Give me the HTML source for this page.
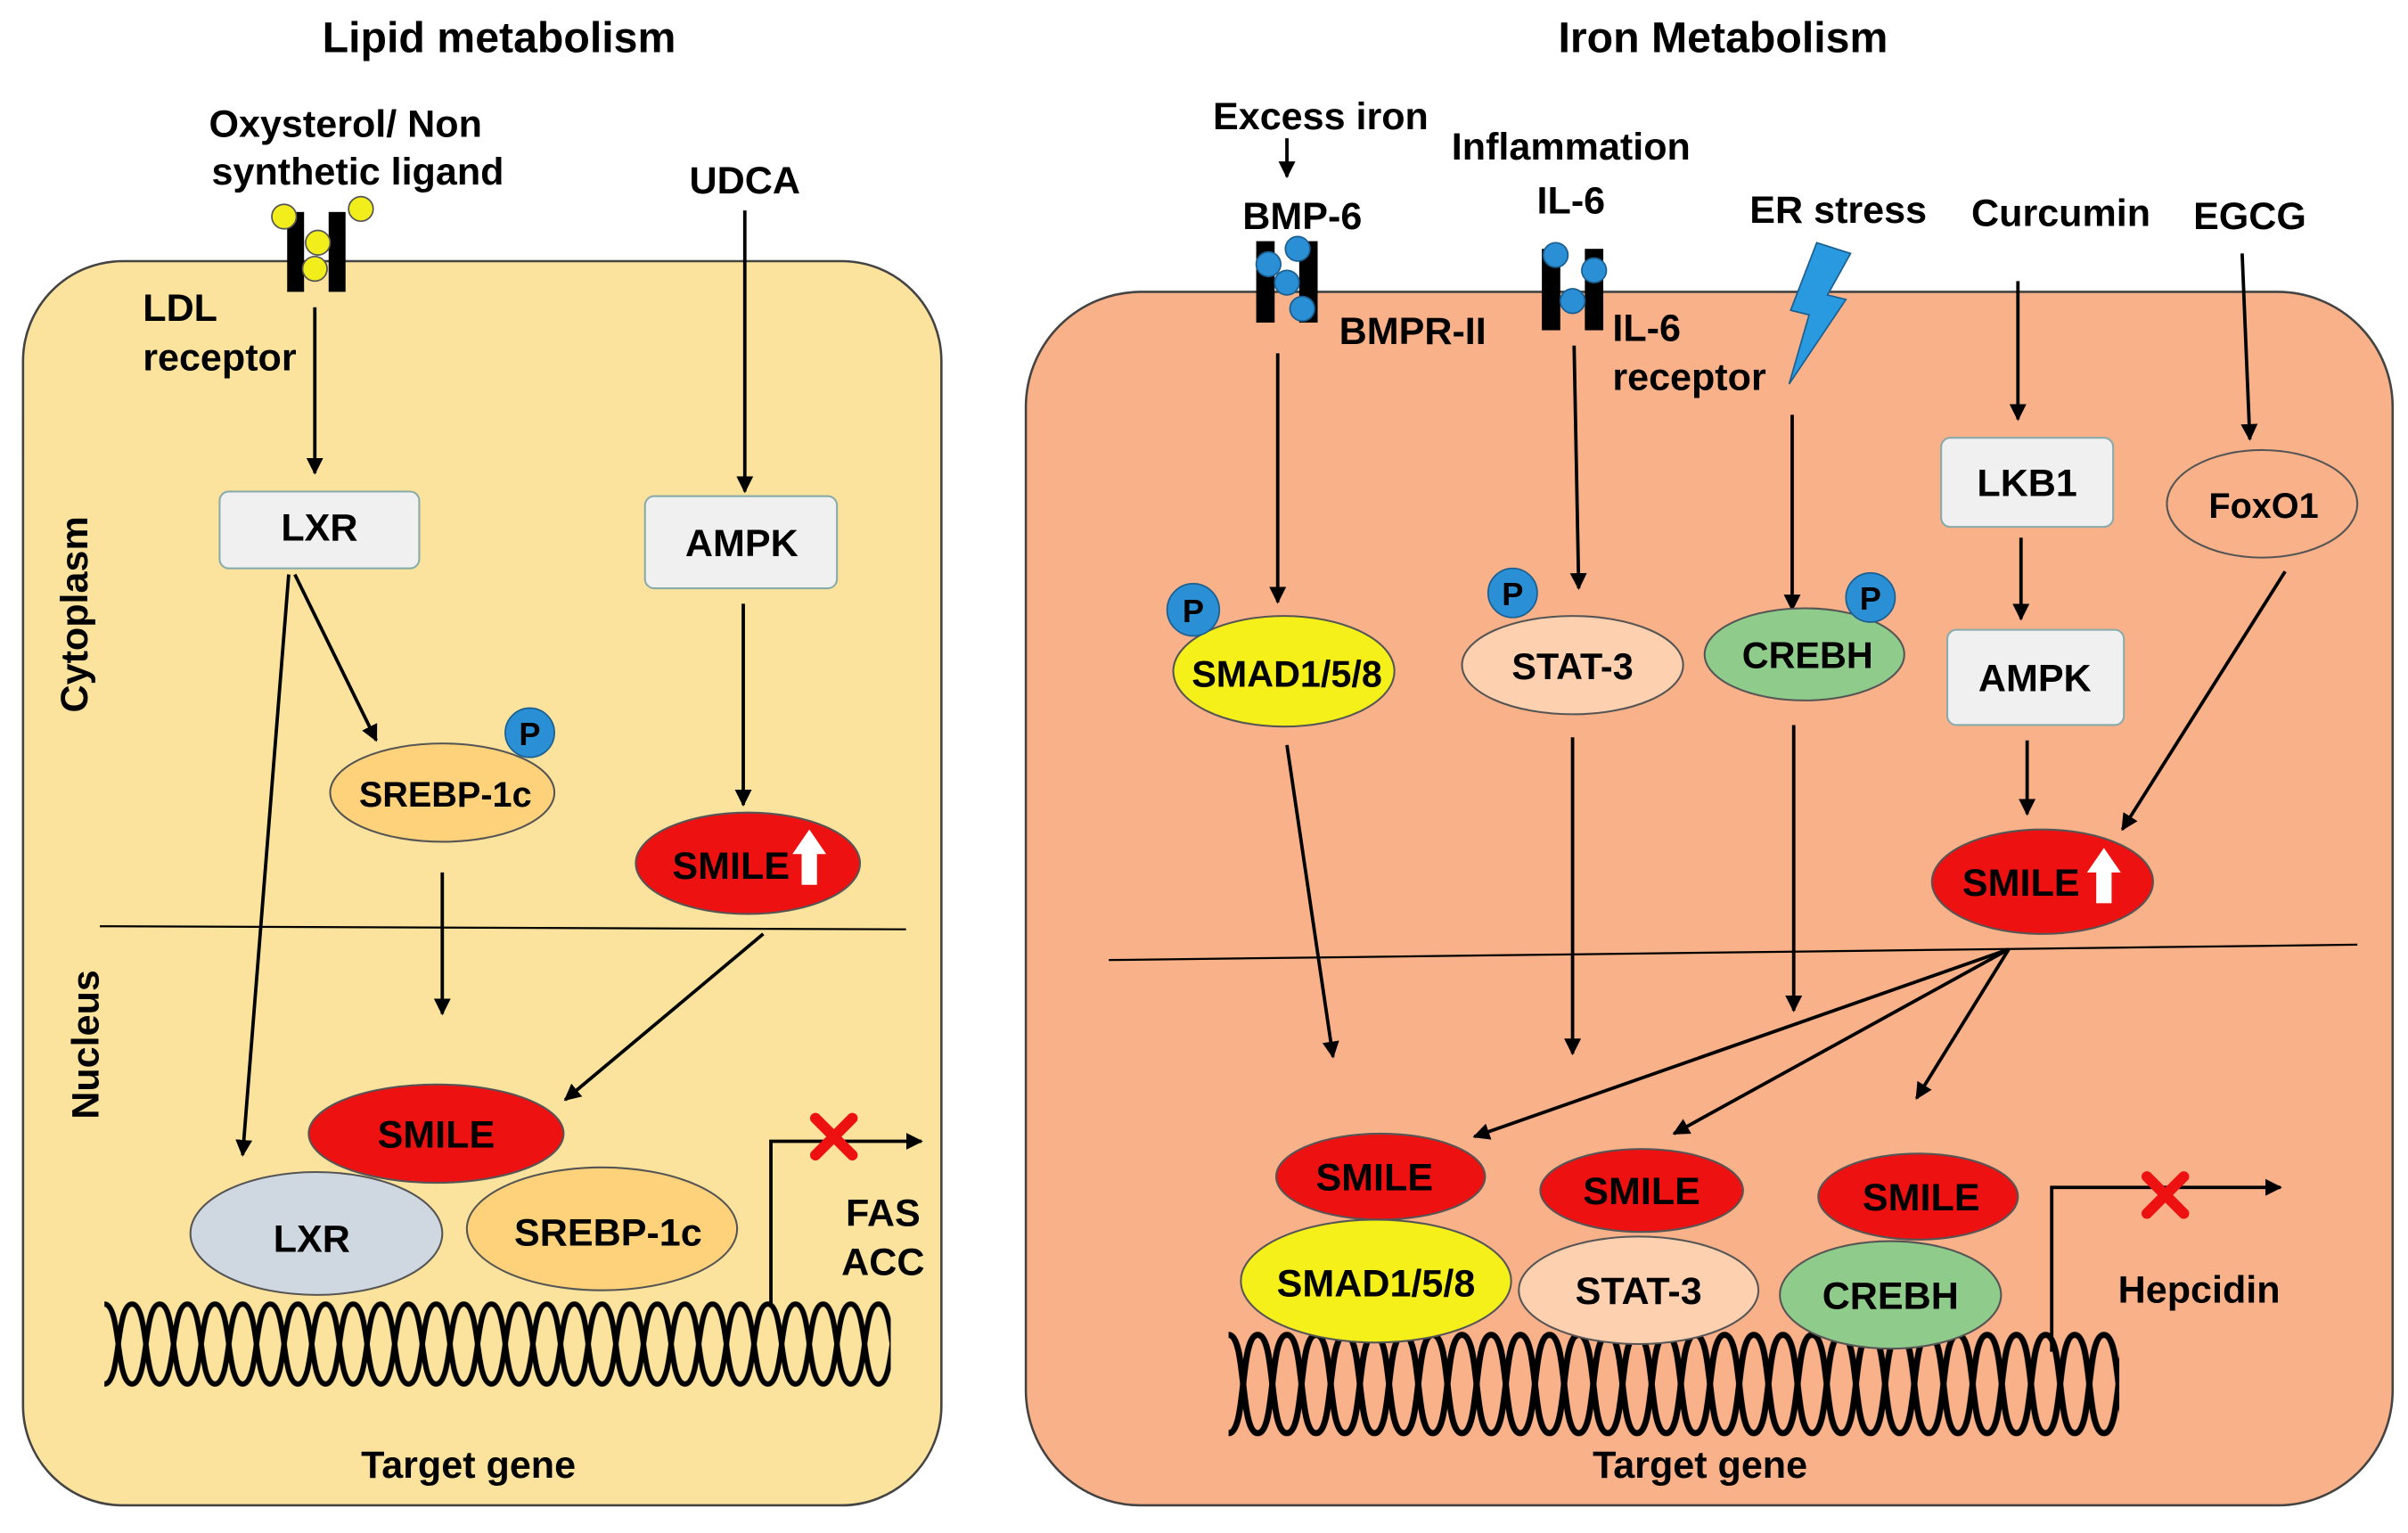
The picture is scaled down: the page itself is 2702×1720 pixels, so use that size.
<!DOCTYPE html>
<html><head><meta charset="utf-8"><style>
html,body{margin:0;padding:0;background:#fff}
svg{display:block}
text{font-family:"Liberation Sans",Arial,sans-serif;font-weight:bold;fill:#000}
</style></head><body>
<svg width="2702" height="1720" viewBox="0 0 1568 998" preserveAspectRatio="none" xmlns="http://www.w3.org/2000/svg">
<defs>
<marker id="a" viewBox="0 0 10 10" refX="9" refY="5" markerWidth="5" markerHeight="5" orient="auto"><path d="M0,0 L10,5 L0,10 z" fill="#000"/></marker>
<pattern id="dna1" x="68" y="845" width="36" height="60" patternUnits="userSpaceOnUse">
<path d="M0,4 C11,4 7,56 18,56 C29,56 25,4 36,4" fill="none" stroke="#000" stroke-width="3.5"/>
<path d="M0,56 C11,56 7,4 18,4 C29,4 25,56 36,56" fill="none" stroke="#000" stroke-width="3.5"/>
</pattern>
<pattern id="dna2" x="800" y="865" width="38" height="72" patternUnits="userSpaceOnUse">
<path d="M0,4 C12,4 7,68 19,68 C31,68 26,4 38,4" fill="none" stroke="#000" stroke-width="4"/>
<path d="M0,68 C12,68 7,4 19,4 C31,4 26,68 38,68" fill="none" stroke="#000" stroke-width="4"/>
</pattern>
</defs>
<g font-size="28" text-anchor="middle">
<text x="325" y="34">Lipid metabolism</text>
<text x="1122" y="34">Iron Metabolism</text>
</g>
<rect x="15" y="170" width="598" height="810" rx="65" fill="#FCE39D" stroke="#444" stroke-width="1.5"/>
<rect x="668" y="190" width="890" height="790" rx="75" fill="#F8B188" stroke="#444" stroke-width="1.5"/>

<g stroke="#000" stroke-width="2.2" fill="none" marker-end="url(#a)">
<line x1="205" y1="200" x2="205" y2="308"/>
<line x1="485" y1="137" x2="485" y2="320"/>
<line x1="192" y1="374" x2="245" y2="482"/>
<line x1="188" y1="374" x2="158" y2="752"/>
<line x1="484" y1="393" x2="484" y2="524"/>
<line x1="288" y1="568" x2="288" y2="660"/>
<line x1="497" y1="608" x2="368" y2="716"/>
<line x1="838" y1="90" x2="838" y2="115"/>
<line x1="832" y1="230" x2="832" y2="392"/>
<line x1="1025" y1="225" x2="1028" y2="383"/>
<line x1="1167" y1="270" x2="1167" y2="397"/>
<line x1="1314" y1="183" x2="1314" y2="273"/>
<line x1="1460" y1="165" x2="1465" y2="286"/>
<line x1="1316" y1="350" x2="1316" y2="403"/>
<line x1="1320" y1="482" x2="1320" y2="530"/>
<line x1="1488" y1="372" x2="1382" y2="540"/>
<line x1="838" y1="485" x2="868" y2="688"/>
<line x1="1024" y1="480" x2="1024" y2="686"/>
<line x1="1168" y1="472" x2="1168" y2="658"/>
<line x1="1308" y1="618" x2="960" y2="740"/>
<line x1="1308" y1="618" x2="1090" y2="738"/>
<line x1="1308" y1="618" x2="1248" y2="715"/>
<polyline points="502,850 502,743 600,743"/>
<polyline points="1336,880 1336,773 1485,773"/>
</g>
<line x1="65" y1="603" x2="590" y2="605" stroke="#000" stroke-width="1.3"/>
<line x1="722" y1="625" x2="1535" y2="615" stroke="#000" stroke-width="1.3"/>

<rect x="187" y="138" width="11" height="52" fill="#000"/><rect x="214" y="138" width="11" height="52" fill="#000"/>
<g fill="#F2EE1C" stroke="#555" stroke-width="1"><circle cx="185" cy="141" r="8"/><circle cx="235" cy="136" r="8"/><circle cx="207" cy="158" r="8"/><circle cx="205" cy="175" r="8"/></g>
<rect x="818" y="157" width="12" height="53" fill="#000"/><rect x="846" y="157" width="12" height="53" fill="#000"/>
<g fill="#2A8FD4" stroke="#1a5f90" stroke-width="1"><circle cx="845" cy="162" r="8"/><circle cx="826" cy="172" r="8"/><circle cx="838" cy="184" r="8"/><circle cx="848" cy="201" r="8"/></g>
<rect x="1004" y="162" width="12" height="53" fill="#000"/><rect x="1032" y="162" width="12" height="53" fill="#000"/>
<g fill="#2A8FD4" stroke="#1a5f90" stroke-width="1"><circle cx="1013" cy="166" r="8"/><circle cx="1038" cy="176" r="8"/><circle cx="1024" cy="196" r="8"/></g>
<path d="M1183,158 L1205,165 L1190,192 L1202,195 L1165,250 L1178,205 L1166,202 Z" fill="#2A9AE0" stroke="#1a5f90" stroke-width="1"/>

<g fill="#F0F0F0" stroke="#8aa" stroke-width="1.2">
<rect x="143" y="320" width="130" height="50" rx="6"/>
<rect x="420" y="323" width="125" height="60" rx="6"/>
<rect x="1264" y="285" width="112" height="58" rx="6"/>
<rect x="1268" y="410" width="115" height="62" rx="6"/>
</g>
<g stroke="#555" stroke-width="1.2">
<ellipse cx="288" cy="516" rx="73" ry="32" fill="#FDD27A"/>
<ellipse cx="487" cy="562" rx="73" ry="33" fill="#EE1111"/>
<ellipse cx="284" cy="738" rx="83" ry="32" fill="#EE1111"/>
<ellipse cx="206" cy="803" rx="82" ry="40" fill="#CFD8E0"/>
<ellipse cx="392" cy="800" rx="88" ry="40" fill="#FDD27A"/>
<ellipse cx="1473" cy="328" rx="62" ry="35" fill="#F8B188"/>
<ellipse cx="1330" cy="574" rx="72" ry="34" fill="#EE1111"/>
<ellipse cx="836" cy="437" rx="72" ry="36" fill="#F5F01A"/>
<ellipse cx="1024" cy="433" rx="72" ry="32" fill="#FDD0B0"/>
<ellipse cx="1175" cy="426" rx="65" ry="30" fill="#8FCB8A"/>
</g>
<rect x="68" y="845" width="512" height="60" fill="url(#dna1)"/>
<rect x="800" y="865" width="580" height="72" fill="url(#dna2)"/>
<g stroke="#555" stroke-width="1.2">
<ellipse cx="899" cy="766" rx="68" ry="28" fill="#EE1111"/>
<ellipse cx="896" cy="834" rx="88" ry="40" fill="#F5F01A"/>
<ellipse cx="1069" cy="775" rx="66" ry="27" fill="#EE1111"/>
<ellipse cx="1067" cy="840" rx="78" ry="35" fill="#FDD0B0"/>
<ellipse cx="1249" cy="779" rx="65" ry="28" fill="#EE1111"/>
<ellipse cx="1231" cy="843" rx="72" ry="35" fill="#8FCB8A"/>
</g>
<g fill="#2A8FD4" stroke="#1a5f90" stroke-width="1">
<circle cx="345" cy="477" r="16"/><circle cx="777" cy="397" r="17"/><circle cx="985" cy="386" r="16"/><circle cx="1218" cy="389" r="16"/>
</g>
<path d="M522,576 L522,556 L516,556 L527,540 L538,556 L532,556 L532,576 Z" fill="#fff"/>
<path d="M1365,588 L1365,568 L1359,568 L1370,552 L1381,568 L1375,568 L1375,588 Z" fill="#fff"/>
<g stroke="#EE1111" stroke-width="7" stroke-linecap="round">
<line x1="531" y1="728" x2="555" y2="752"/><line x1="555" y1="728" x2="531" y2="752"/>
<line x1="1398" y1="766" x2="1422" y2="790"/><line x1="1422" y1="766" x2="1398" y2="790"/>
</g>

<g font-size="25" text-anchor="middle">
<text x="225" y="89">Oxysterol/ Non</text>
<text x="233" y="120">synthetic ligand</text>
<text x="485" y="126">UDCA</text>
<text x="208" y="352">LXR</text>
<text x="483" y="362">AMPK</text>
<text x="290" y="525" font-size="23">SREBP-1c</text>
<text x="476" y="572">SMILE</text>
<text x="284" y="747">SMILE</text>
<text x="203" y="815">LXR</text>
<text x="396" y="811">SREBP-1c</text>
<text x="305" y="962">Target gene</text>
<text x="345" y="485" font-size="21">P</text>
<text x="860" y="84">Excess iron</text>
<text x="848" y="149">BMP-6</text>
<text x="1023" y="104">Inflammation</text>
<text x="1023" y="139">IL-6</text>
<text x="1197" y="145">ER stress</text>
<text x="1342" y="147">Curcumin</text>
<text x="1465" y="149">EGCG</text>
<text x="1320" y="323">LKB1</text>
<text x="1325" y="450">AMPK</text>
<text x="1474" y="337" font-size="23">FoxO1</text>
<text x="1316" y="583">SMILE</text>
<text x="838" y="447" font-size="24">SMAD1/5/8</text>
<text x="1024" y="442" font-size="24">STAT-3</text>
<text x="1177" y="435" font-size="24">CREBH</text>
<text x="777" y="405" font-size="21">P</text>
<text x="985" y="394" font-size="21">P</text>
<text x="1218" y="397" font-size="21">P</text>
<text x="895" y="775">SMILE</text>
<text x="896" y="844">SMAD1/5/8</text>
<text x="1069" y="784">SMILE</text>
<text x="1067" y="849">STAT-3</text>
<text x="1251" y="788">SMILE</text>
<text x="1231" y="852">CREBH</text>
<text x="1107" y="962">Target gene</text>
<text x="1432" y="848">Hepcidin</text>
<text x="575" y="798">FAS</text>
<text x="575" y="830">ACC</text>
</g>
<g font-size="25">
<text x="93" y="209">LDL</text>
<text x="93" y="241">receptor</text>
<text x="872" y="224">BMPR-II</text>
<text x="1050" y="222">IL-6</text>
<text x="1050" y="254">receptor</text>
</g>
<text font-size="25" text-anchor="middle" transform="translate(57,400) rotate(-90)">Cytoplasm</text>
<text font-size="25" text-anchor="middle" transform="translate(64,680) rotate(-90)">Nucleus</text>
</svg>
</body></html>
